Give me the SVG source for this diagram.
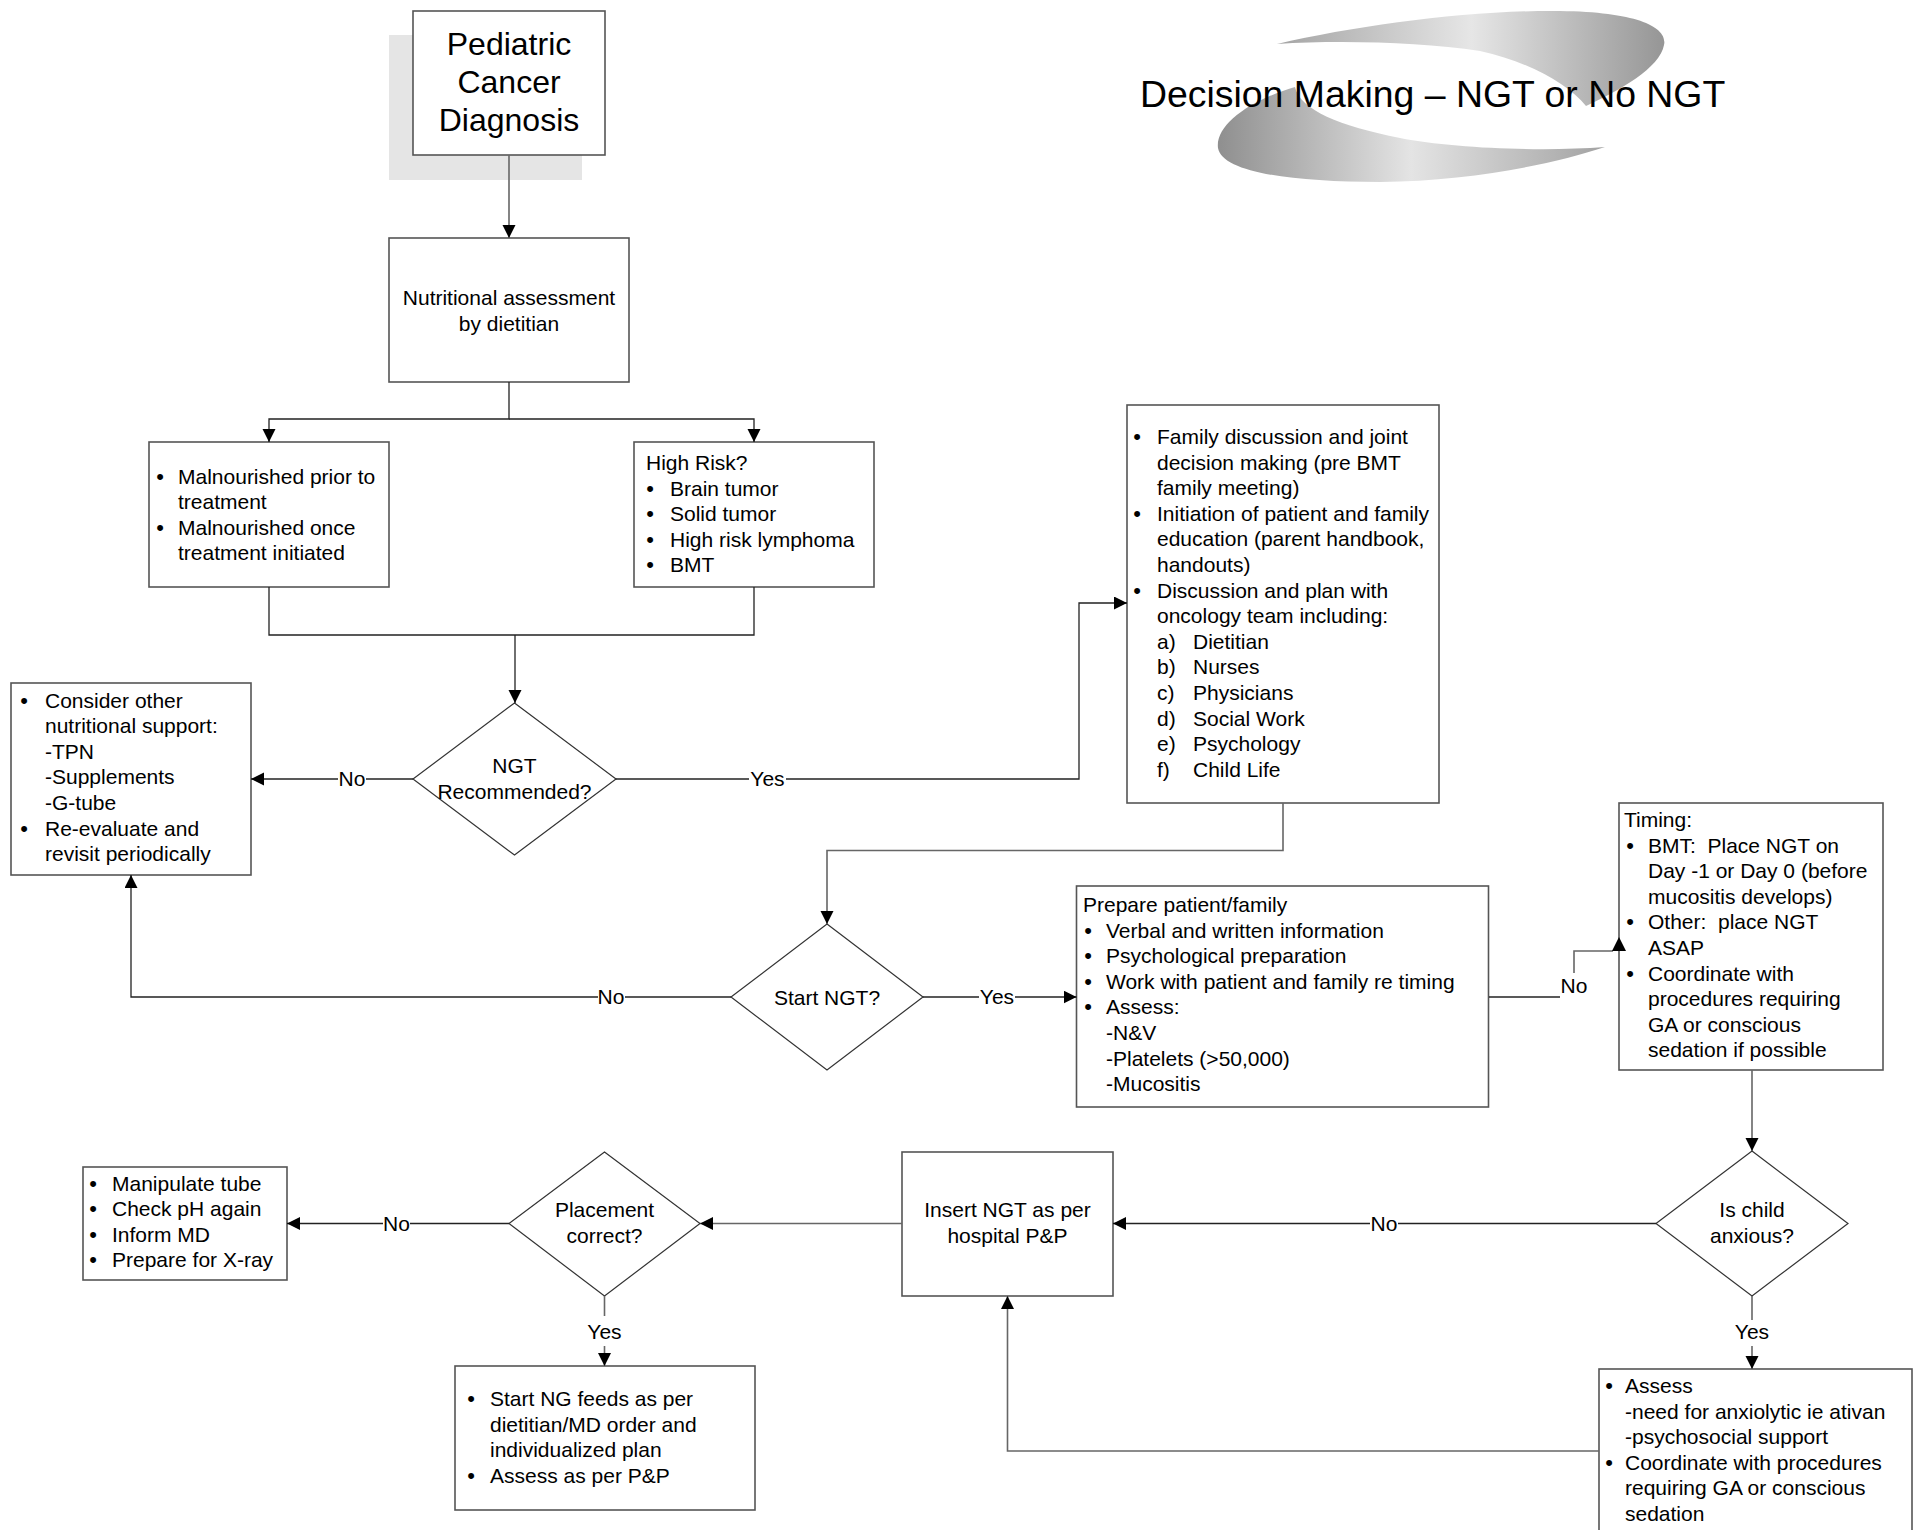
<svg xmlns="http://www.w3.org/2000/svg" width="1916" height="1530" viewBox="0 0 1916 1530">
<style>
.box{fill:#fff;stroke:#555;stroke-width:1.6}
.dia{fill:#fff;stroke:#333;stroke-width:1.2}
.c{fill:none;stroke:#222;stroke-width:1.3}
.cg{fill:none;stroke:#666;stroke-width:1.6}
.ah{fill:#000;stroke:none}
text{font-family:"Liberation Sans",Arial,sans-serif;font-size:21px;fill:#000}
.m{text-anchor:middle}
.b{text-anchor:middle;font-size:22px}
.big{font-size:32px}
.title{font-size:37.4px}
</style>
<defs>
<marker id="arr" markerUnits="userSpaceOnUse" markerWidth="14" markerHeight="14" refX="13" refY="6.5" orient="auto">
<path d="M0,0 L13,6.5 L0,13 Z" fill="#000"/>
</marker>
<linearGradient id="gUp" gradientUnits="userSpaceOnUse" x1="1277" y1="0" x2="1666" y2="0">
<stop offset="0" stop-color="#a4a4a4"/>
<stop offset="0.5" stop-color="#e6e6e6"/>
<stop offset="1" stop-color="#959595"/>
</linearGradient>
<linearGradient id="gLo" gradientUnits="userSpaceOnUse" x1="1216" y1="0" x2="1606" y2="0">
<stop offset="0" stop-color="#8e8e8e"/>
<stop offset="0.5" stop-color="#e4e4e4"/>
<stop offset="1" stop-color="#a2a2a2"/>
</linearGradient>
</defs>

<g id="title">
<path d="M1277,44 C1360,25 1470,10 1560,11 C1640,12 1668,28 1664,45 C1660,68 1620,90 1586,106 C1568,84 1530,62 1480,51 C1420,42 1340,40 1277,44 Z" fill="url(#gUp)"/>
<path d="M1295,87 C1250,100 1215,125 1218,148 C1222,172 1290,182 1380,182 C1470,181 1550,165 1605,147 C1540,152 1450,148 1400,138 C1340,126 1300,110 1295,87 Z" fill="url(#gLo)"/>
<text class="title" x="1140" y="107">Decision Making – NGT or No NGT</text>
</g>

<g id="n-diagnosis">
<rect x="389" y="35" width="193" height="145" fill="#e5e5e5"/>
<rect class="box" x="413" y="11" width="192" height="144"/>
<text class="big m" x="509" y="54.5">Pediatric</text>
<text class="big m" x="509" y="92.5">Cancer</text>
<text class="big m" x="509" y="130.5">Diagnosis</text>
</g>

<g id="n-assessment">
<rect class="box" x="389" y="238" width="240" height="144"/>
<text class="m" x="509" y="305">Nutritional assessment</text>
<text class="m" x="509" y="330.5">by dietitian</text>
</g>

<g id="n-malnourished">
<rect class="box" x="149" y="442" width="240" height="145"/>
<text class="b" x="160" y="483.5">•</text>
<text x="178" y="483.5">Malnourished prior to</text>
<text x="178" y="509">treatment</text>
<text class="b" x="160" y="534.5">•</text>
<text x="178" y="534.5">Malnourished once</text>
<text x="178" y="560">treatment initiated</text>
</g>

<g id="n-highrisk">
<rect class="box" x="634" y="442" width="240" height="145"/>
<text x="646" y="470">High Risk?</text>
<text class="b" x="650" y="495.6">•</text>
<text x="670" y="495.6">Brain tumor</text>
<text class="b" x="650" y="521.2">•</text>
<text x="670" y="521.2">Solid tumor</text>
<text class="b" x="650" y="546.8">•</text>
<text x="670" y="546.8">High risk lymphoma</text>
<text class="b" x="650" y="572.4">•</text>
<text x="670" y="572.4">BMT</text>
</g>

<g id="n-ngtrec">
<path class="dia" d="M514.5,703 L616,779 L514.5,855 L413,779 Z"/>
<text class="m" x="514.5" y="773">NGT</text>
<text class="m" x="514.5" y="798.5">Recommended?</text>
</g>

<g id="n-consider">
<rect class="box" x="11" y="683" width="240" height="192"/>
<text class="b" x="24" y="707.5">•</text>
<text x="45" y="707.5">Consider other</text>
<text x="45" y="733.1">nutritional support:</text>
<text x="45" y="758.7">-TPN</text>
<text x="45" y="784.3">-Supplements</text>
<text x="45" y="809.9">-G-tube</text>
<text class="b" x="24" y="835.5">•</text>
<text x="45" y="835.5">Re-evaluate and</text>
<text x="45" y="861.1">revisit periodically</text>
</g>

<g id="n-family">
<rect class="box" x="1127" y="405" width="312" height="398"/>
<text class="b" x="1137" y="444">•</text>
<text x="1157" y="444">Family discussion and joint</text>
<text x="1157" y="469.6">decision making (pre BMT</text>
<text x="1157" y="495.2">family meeting)</text>
<text class="b" x="1137" y="520.8">•</text>
<text x="1157" y="520.8">Initiation of patient and family</text>
<text x="1157" y="546.4">education (parent handbook,</text>
<text x="1157" y="572">handouts)</text>
<text class="b" x="1137" y="597.6">•</text>
<text x="1157" y="597.6">Discussion and plan with</text>
<text x="1157" y="623.2">oncology team including:</text>
<text x="1157" y="648.8">a)</text><text x="1193" y="648.8">Dietitian</text>
<text x="1157" y="674.4">b)</text><text x="1193" y="674.4">Nurses</text>
<text x="1157" y="700">c)</text><text x="1193" y="700">Physicians</text>
<text x="1157" y="725.6">d)</text><text x="1193" y="725.6">Social Work</text>
<text x="1157" y="751.2">e)</text><text x="1193" y="751.2">Psychology</text>
<text x="1157" y="776.8">f)</text><text x="1193" y="776.8">Child Life</text>
</g>

<g id="n-startngt">
<path class="dia" d="M827,924 L923,997 L827,1070 L731,997 Z"/>
<text class="m" x="827" y="1004.5">Start NGT?</text>
</g>

<g id="n-prepare">
<rect class="box" x="1076.5" y="886" width="412" height="221"/>
<text x="1083" y="912">Prepare patient/family</text>
<text class="b" x="1088" y="937.6">•</text>
<text x="1106" y="937.6">Verbal and written information</text>
<text class="b" x="1088" y="963.2">•</text>
<text x="1106" y="963.2">Psychological preparation</text>
<text class="b" x="1088" y="988.8">•</text>
<text x="1106" y="988.8">Work with patient and family re timing</text>
<text class="b" x="1088" y="1014.4">•</text>
<text x="1106" y="1014.4">Assess:</text>
<text x="1106" y="1040">-N&amp;V</text>
<text x="1106" y="1065.6">-Platelets (&gt;50,000)</text>
<text x="1106" y="1091.2">-Mucositis</text>
</g>

<g id="n-timing">
<rect class="box" x="1619" y="803" width="264" height="267"/>
<text x="1624" y="827">Timing:</text>
<text class="b" x="1630" y="852.6">•</text>
<text x="1648" y="852.6" xml:space="preserve">BMT:  Place NGT on</text>
<text x="1648" y="878.2">Day -1 or Day 0 (before</text>
<text x="1648" y="903.8">mucositis develops)</text>
<text class="b" x="1630" y="929.4">•</text>
<text x="1648" y="929.4" xml:space="preserve">Other:  place NGT</text>
<text x="1648" y="955">ASAP</text>
<text class="b" x="1630" y="980.6">•</text>
<text x="1648" y="980.6">Coordinate with</text>
<text x="1648" y="1006.2">procedures requiring</text>
<text x="1648" y="1031.8">GA or conscious</text>
<text x="1648" y="1057.4">sedation if possible</text>
</g>

<g id="n-anxious">
<path class="dia" d="M1752,1151 L1848,1223.5 L1752,1296 L1656,1223.5 Z"/>
<text class="m" x="1752" y="1217">Is child</text>
<text class="m" x="1752" y="1242.6">anxious?</text>
</g>

<g id="n-insert">
<rect class="box" x="902" y="1152" width="211" height="144"/>
<text class="m" x="1007.5" y="1217">Insert NGT as per</text>
<text class="m" x="1007.5" y="1242.6">hospital P&amp;P</text>
</g>

<g id="n-anxassess">
<rect class="box" x="1599" y="1369" width="313" height="170"/>
<text class="b" x="1609" y="1393">•</text>
<text x="1625" y="1393">Assess</text>
<text x="1625" y="1418.6">-need for anxiolytic ie ativan</text>
<text x="1625" y="1444.2">-psychosocial support</text>
<text class="b" x="1609" y="1469.8">•</text>
<text x="1625" y="1469.8">Coordinate with procedures</text>
<text x="1625" y="1495.4">requiring GA or conscious</text>
<text x="1625" y="1521">sedation</text>
</g>

<g id="n-placement">
<path class="dia" d="M604.5,1152 L700,1223.5 L604.5,1296 L509,1223.5 Z"/>
<text class="m" x="604.5" y="1217">Placement</text>
<text class="m" x="604.5" y="1242.6">correct?</text>
</g>

<g id="n-manipulate">
<rect class="box" x="83" y="1167" width="204" height="113"/>
<text class="b" x="93" y="1190.5">•</text>
<text x="112" y="1190.5">Manipulate tube</text>
<text class="b" x="93" y="1216.1">•</text>
<text x="112" y="1216.1">Check pH again</text>
<text class="b" x="93" y="1241.7">•</text>
<text x="112" y="1241.7">Inform MD</text>
<text class="b" x="93" y="1267.3">•</text>
<text x="112" y="1267.3">Prepare for X-ray</text>
</g>

<g id="n-startfeeds">
<rect class="box" x="455" y="1366" width="300" height="144"/>
<text class="b" x="471" y="1406">•</text>
<text x="490" y="1406">Start NG feeds as per</text>
<text x="490" y="1431.6">dietitian/MD order and</text>
<text x="490" y="1457.2">individualized plan</text>
<text class="b" x="471" y="1482.8">•</text>
<text x="490" y="1482.8">Assess as per P&amp;P</text>
</g>

<g id="connectors">
<path class="cg" d="M509,155 V238" marker-end="url(#arr)"/>
<path class="c" d="M509,382 V419 H269 V442" marker-end="url(#arr)"/>
<path class="c" d="M509,419 H754 V442" marker-end="url(#arr)"/>
<path class="c" d="M269,587 V635 H754 V587"/>
<path class="c" d="M515,635 V703" marker-end="url(#arr)"/>
<path class="c" d="M413,779 H366"/>
<path class="c" d="M338,779 H251" marker-end="url(#arr)"/>
<text class="m" x="352" y="786">No</text>
<path class="c" d="M616,779 H749"/>
<path class="c" d="M786,779 H1079 V603 H1127" marker-end="url(#arr)"/>
<text class="m" x="767.5" y="786">Yes</text>
<path class="cg" d="M1283,803 V850.5 H827 V924" marker-end="url(#arr)"/>
<path class="c" d="M731,997 H625"/>
<path class="c" d="M598,997 H131 V875" marker-end="url(#arr)"/>
<text class="m" x="611" y="1004">No</text>
<path class="c" d="M923,997 H979"/>
<path class="c" d="M1015,997 H1076.5" marker-end="url(#arr)"/>
<text class="m" x="997" y="1004">Yes</text>
<path class="c" d="M1489,997 H1560"/>
<path class="cg" d="M1574,973 V951 H1613"/>
<path class="ah" d="M1612,951 L1626,951 L1619,937 Z"/>
<text class="m" x="1574" y="993">No</text>
<path class="cg" d="M1752,1070 V1151" marker-end="url(#arr)"/>
<path class="c" d="M1656,1223.5 H1398"/>
<path class="c" d="M1370,1223.5 H1113" marker-end="url(#arr)"/>
<text class="m" x="1384" y="1230.5">No</text>
<path class="cg" d="M1752,1296 V1320"/>
<path class="cg" d="M1752,1346 V1369" marker-end="url(#arr)"/>
<text class="m" x="1752" y="1339">Yes</text>
<path class="cg" d="M1599,1451 H1007.5 V1296" marker-end="url(#arr)"/>
<path class="cg" d="M902,1223.5 H700" marker-end="url(#arr)"/>
<path class="c" d="M509,1223.5 H410"/>
<path class="c" d="M383,1223.5 H287" marker-end="url(#arr)"/>
<text class="m" x="396.5" y="1230.5">No</text>
<path class="cg" d="M604.5,1296 V1316"/>
<path class="cg" d="M604.5,1346 V1366" marker-end="url(#arr)"/>
<text class="m" x="604.5" y="1339">Yes</text>
</g>
</svg>
